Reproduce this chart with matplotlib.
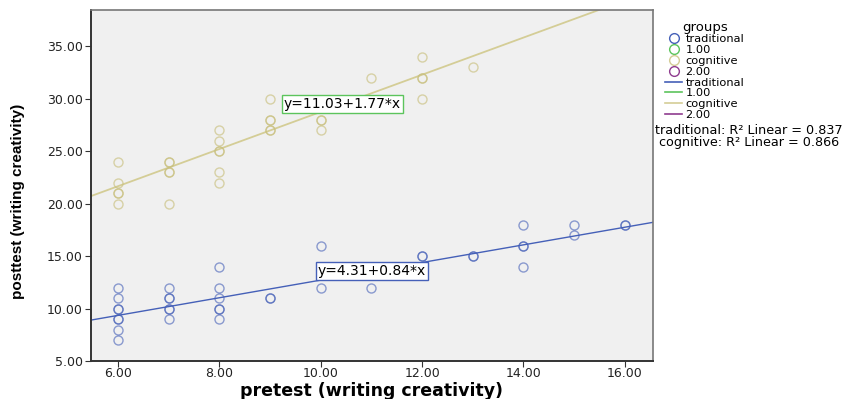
import matplotlib
matplotlib.use("Agg")
import matplotlib.pyplot as plt
from matplotlib.lines import Line2D
import numpy as np

plt.rcParams['font.family'] = ['DejaVu Sans']

# pretest / posttest scores
trad_x = [6, 6, 6, 6, 6, 6, 6, 6,
          7, 7, 7, 7, 7, 7,
          8, 8, 8, 8, 8, 8,
          9, 9, 10, 10, 11, 12, 12, 13, 13,
          14, 14, 14, 14, 15, 15, 16, 16]
trad_y = [12, 11, 10, 10, 9, 9, 8, 7,
          12, 11, 11, 10, 10, 9,
          14, 12, 11, 10, 10, 9,
          11, 11, 16, 12, 12, 15, 15, 15, 15,
          18, 16, 16, 14, 18, 17, 18, 18]

cog_x = [6, 6, 6, 6, 6,
         7, 7, 7, 7, 7,
         8, 8, 8, 8, 8, 8,
         9, 9, 9, 9, 9,
         10, 10, 10, 11, 12, 12, 12, 12, 13]
cog_y = [24, 22, 21, 21, 20,
         24, 24, 23, 23, 20,
         27, 26, 25, 25, 23, 22,
         30, 28, 28, 27, 27,
         28, 28, 27, 32, 34, 32, 32, 30, 33]

# fit lines (intercept, slope) and R2
trad_fit = (4.31, 0.84)
cog_fit = (11.03, 1.77)
r2_trad = 0.837
r2_cog = 0.866

blue = '#4560b8'
tan = '#d4cd96'
green = '#5cc45c'
purple = '#8f3c8f'

fig = plt.figure(figsize=(8.5, 3.99), dpi=100)
ax = fig.add_axes([0.107, 0.095, 0.661, 0.879])
ax.set_facecolor('#f0f0f0')

xmin, xmax = 5.47, 16.55
ax.set_xlim(xmin, xmax)
ax.set_ylim(5, 38.4)

ax.plot(trad_x, trad_y, 'o', ms=6.5, mfc='none', mec=blue, mew=1.0, alpha=0.6, zorder=3)
ax.plot(cog_x, cog_y, 'o', ms=6.5, mfc='none', mec='#c9c07e', mew=1.0, alpha=0.65, zorder=3)

xs = np.array([xmin, xmax])
ax.plot(xs, trad_fit[0] + trad_fit[1] * xs, color=blue, lw=1.0, zorder=2)
ax.plot(xs, cog_fit[0] + cog_fit[1] * xs, color=tan, lw=1.3, zorder=2)

ax.text(10.43, 29.5, 'y=11.03+1.77*x', ha='center', va='center', fontsize=10, zorder=4,
        bbox=dict(boxstyle='square,pad=0.15', fc='white', ec=green, lw=1.0))
ax.text(11.01, 13.6, 'y=4.31+0.84*x', ha='center', va='center', fontsize=10, zorder=4,
        bbox=dict(boxstyle='square,pad=0.15', fc='white', ec=blue, lw=1.0))

ax.set_xticks([6, 8, 10, 12, 14, 16])
ax.set_xticklabels(['6.00', '8.00', '10.00', '12.00', '14.00', '16.00'])
ax.set_yticks([5, 10, 15, 20, 25, 30, 35])
ax.set_yticklabels(['5.00', '10.00', '15.00', '20.00', '25.00', '30.00', '35.00'])
ax.tick_params(labelsize=9, length=4, color='#333333', labelcolor='#222222')
ax.tick_params(axis='x', pad=0.5)
ax.tick_params(axis='y', pad=2)
for s in ['left', 'bottom']:
    ax.spines[s].set_color('#333333')
    ax.spines[s].set_linewidth(1.4)
for s in ['top', 'right']:
    ax.spines[s].set_color('#777777')
    ax.spines[s].set_linewidth(1.2)

ax.set_xlabel('pretest (writing creativity)', fontsize=12.5, fontweight='bold', va='center')
ax.xaxis.set_label_coords(0.5, -0.085)
ax.set_ylabel('posttest (writing creativity)', fontsize=11, fontweight='bold',
              family=['Liberation Sans Narrow', 'Liberation Sans'], va='center')
ax.yaxis.set_label_coords(-0.13, 0.456)

def mk(c):
    return Line2D([], [], ls='none', marker='o', ms=7, mfc='none', mec=c, mew=1.0)

def ln(c):
    return Line2D([], [], color=c, lw=1.2)

handles = [mk(blue), mk(green), mk(tan), mk(purple), ln(blue), ln(green), ln(tan), ln(purple)]
labels = ['traditional', '1.00', 'cognitive', '2.00', 'traditional', '1.00', 'cognitive', '2.00']
leg = fig.legend(handles, labels, title='groups', loc='upper left',
                 bbox_to_anchor=(0.777, 0.96), frameon=False, fontsize=8.2,
                 title_fontsize=9.5, handlelength=1.5, handletextpad=0.3,
                 labelspacing=0.07, borderaxespad=0)

fig.text(0.881, 0.665, 'traditional: R² Linear = %.3f' % r2_trad, ha='center', fontsize=9.2)
fig.text(0.881, 0.633, 'cognitive: R² Linear = %.3f' % r2_cog, ha='center', fontsize=9.2)

fig.savefig('out.png', dpi=100)
